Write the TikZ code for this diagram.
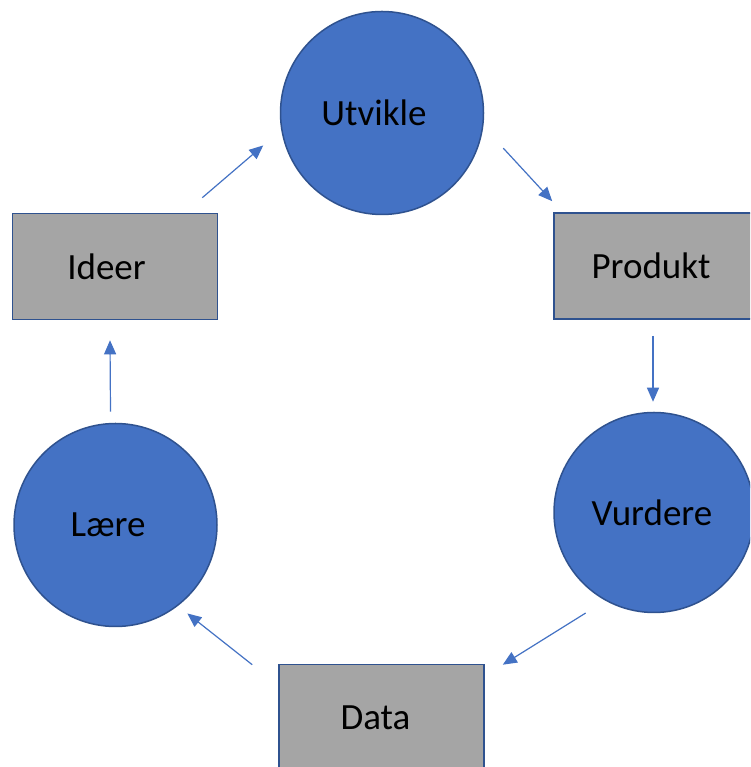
\documentclass[tikz,border=0pt]{standalone}
\usepackage{fontspec}
\setmainfont{Carlito}
\usetikzlibrary{arrows.meta}
\definecolor{cfill}{HTML}{4472C4}
\definecolor{cedge}{HTML}{2F528F}
\definecolor{bfill}{HTML}{A5A5A5}
\definecolor{arrowc}{HTML}{4472C4}
\tikzset{
  stage/.style={circle, fill=cfill, draw=cedge, line width=1.5pt, minimum size=203pt, inner sep=0pt, font=\fontsize{37}{44}\selectfont},
  itembox/.style={rectangle, fill=bfill, draw=cedge, line width=1.6pt, minimum width=205pt, minimum height=106pt, inner sep=0pt, font=\fontsize{37}{44}\selectfont},
  flow/.style={draw=arrowc, line width=1.2pt, -{Triangle[length=14pt,width=12pt]}}
}
\begin{document}
\begin{tikzpicture}[x=1pt,y=1pt]
\useasboundingbox (0,0) rectangle (750,767);
\clip (0,0) rectangle (750,767);
\fill[white] (0,0) rectangle (750,767);
% cycle stages
\node[stage] (utvikle) at (382,654) {\hspace*{-16pt}Utvikle};
\node[itembox] (ideer) at (115,500.5) {\hspace*{-17pt}Ideer};
\node[itembox, minimum width=210pt] (produkt) at (659,501) {\hspace*{-16pt}Produkt};
\node[stage, minimum size=200pt] (vurdere) at (654,254.5) {\hspace*{-4pt}Vurdere};
\node[stage] (laere) at (115.5,242) {\hspace*{-15pt}Lære};
\node[itembox] (data) at (381.5,49.5) {\hspace*{-12pt}Data};
% connectors
\draw[flow] ([shift={(-16,15)}]ideer.north east) -- ([shift={(-20,-6)}]utvikle.195);
\draw[flow] ([shift={(23,-7)}]utvikle.-16) -- ([shift={(-1,11)}]produkt.north west);
\draw[flow] ([shift={(-6,-16)}]produkt.south) -- ([shift={(-1,10)}]vurdere.north);
\draw[flow] ([shift={(-12,-17)}]vurdere.236) -- ([shift={(18,-1)}]data.north east);
\draw[flow] ([shift={(-26,-1)}]data.north west) -- ([shift={(7.5,-9)}]laere.-51);
\draw[flow] ([shift={(-5,11)}]laere.north) -- ([shift={(-5,-20)}]ideer.south);
\end{tikzpicture}
\end{document}
